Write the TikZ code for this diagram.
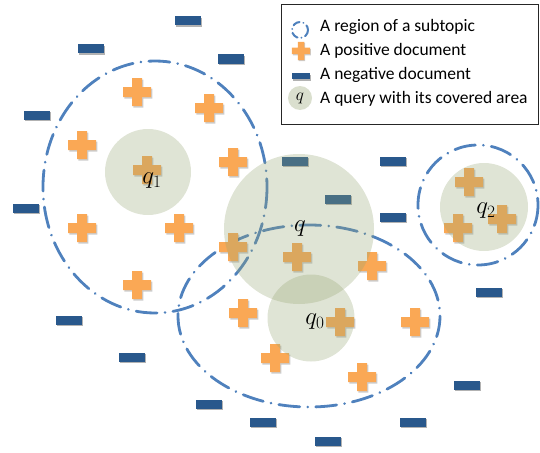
\documentclass[tikz,border=0pt]{standalone}
\usepackage{fontspec}
\setmainfont{Carlito}
\usetikzlibrary{shadows}
\definecolor{posc}{RGB}{250,168,85}
\definecolor{negc}{RGB}{41,88,140}
\definecolor{regc}{RGB}{79,129,189}
\definecolor{qc}{RGB}{150,165,115}
\newcommand{\plusshape}{(-5,-14) -- (5,-14) -- (5,-5) -- (14,-5) -- (14,5) -- (5,5) -- (5,14) -- (-5,14) -- (-5,5) -- (-14,5) -- (-14,-5) -- (-5,-5) -- cycle}
\begin{document}
\begin{tikzpicture}[x=1pt,y=-1pt,
  region/.style={draw=regc,line width=2.8pt,line cap=round,dash pattern=on 21pt off 8pt on 0.01pt off 8pt},
  negdoc/.style={fill=negc,minimum width=26pt,minimum height=9pt,inner sep=0pt,draw=none,
    drop shadow={shadow xshift=1.2pt,shadow yshift=-1.5pt,opacity=0.3,fill=black}},
  query/.style={circle,fill=qc,fill opacity=0.3,inner sep=0pt,draw=none},
  qlabel/.style={font=\fontsize{24}{28}\selectfont,inner sep=0pt},
  legtext/.style={anchor=base west,inner sep=0pt,font=\fontsize{17.5}{20}\selectfont},
  pics/posdoc/.style={code={
    \begin{scope}[shift={(1.3,1.6)}]\fill[black,opacity=0.2] \plusshape;\end{scope}
    \fill[posc] \plusshape;
  }}
]
\useasboundingbox (0,0) rectangle (540,452);

% regions of subtopics
\draw[region] (155,187) ellipse [x radius=112, y radius=126];
\draw[region] (309,316) ellipse [x radius=131, y radius=91];
\draw[region] (478,205) circle [radius=60];

% positive documents
\foreach \x/\y [count=\i] in {137/92, 209/108, 82/145, 233/162, 147/170, 82/228, 179/228, 137/285,
  233/247, 297/257, 372/266, 243/313, 340/322, 415/322, 275/358, 362/377, 469/182, 502/219, 458/228}
  \pic (p\i) at (\x,\y) {posdoc};

% negative documents
\foreach \x/\y [count=\i] in {188/21, 91/49, 231/59, 37/115, 295/161, 338/199, 393/161, 393/217,
  26/208, 69/320, 132/357, 209/404, 263/422, 328/441, 413/422, 467/385, 489/292}
  \node[negdoc] (n\i) at (\x,\y) {};

% queries with covered areas
\node[query,minimum size=86pt] (Q1) at (148,172) {};
\node[query,minimum size=150pt] (Q) at (299,229) {};
\node[query,minimum size=87pt] (Q0) at (311,318) {};
\node[query,minimum size=88pt] (Q2) at (484,207) {};
\node[qlabel] (lq1) at (152,181) {$q_1$};
\node[qlabel] (lq) at (300,229) {$q$};
\node[qlabel] (lq0) at (315,322) {$q_0$};
\node[qlabel] (lq2) at (486,211) {$q_2$};

% legend
\node[draw=black!85,line width=0.9pt,fill=white,minimum width=257pt,minimum height=120pt,inner sep=0pt] (leg) at (409.5,64) {};
\draw[regc,line width=2pt,dash pattern=on 7pt off 4pt on 0.01pt off 4pt,line cap=round] (300,30) circle [radius=8];
\pic[scale=0.65] (lp) at (301,51) {posdoc};
\node[negdoc,minimum width=18pt,minimum height=6pt] (ln) at (301,76) {};
\node[query,minimum size=24pt,fill opacity=0.35] (lqc) at (300,98) {};
\node[inner sep=0pt,font=\fontsize{16}{18}\selectfont] (lqt) at (300,98) {$q$};
\node[legtext] (t1) at (320,32) {A region of a subtopic};
\node[legtext] (t2) at (320,55.7) {A positive document};
\node[legtext] (t3) at (320,79.3) {A negative document};
\node[legtext] (t4) at (320,103) {A query with its covered area};
\end{tikzpicture}
\end{document}
